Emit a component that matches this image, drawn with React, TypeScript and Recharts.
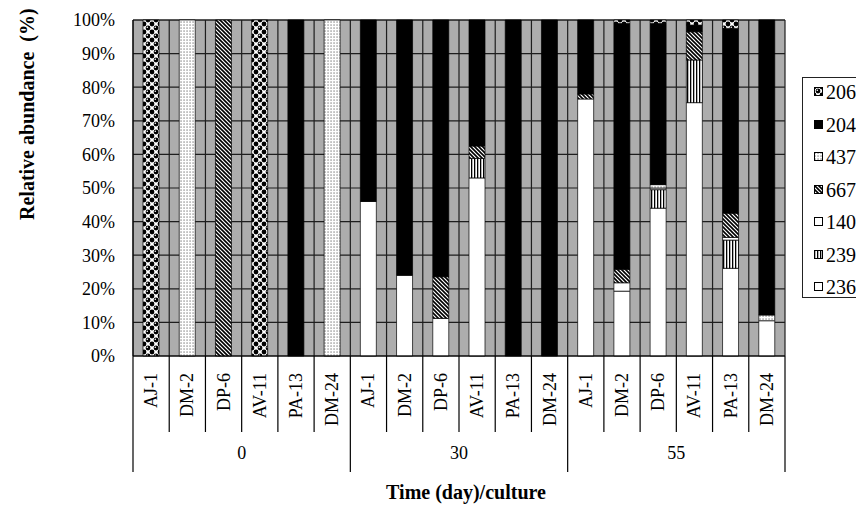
import React from 'react';
import { BarChart, Bar, XAxis, YAxis, CartesianGrid } from 'recharts';

// cultures per sampling day
const days = ['0', '30', '55'];
const cultures = ['AJ-1', 'DM-2', 'DP-6', 'AV-11', 'PA-13', 'DM-24'];

// relative abundance (%) of each band, 18 bars: day 0, day 30, day 55
const s236 = [0, 0, 0, 0, 0, 0, 46, 24, 11.2, 53, 0, 0, 76.5, 19.3, 44, 75.4, 26.1, 10.5];
const s239 = [0, 0, 0, 0, 0, 0, 0, 0, 0, 5.8, 0, 0, 0, 0, 5.5, 12.7, 8.4, 0];
const s140 = [0, 0, 0, 0, 0, 0, 0, 0, 0, 0, 0, 0, 0, 2.5, 0.5, 0, 0.8, 0];
const s667 = [0, 0, 100, 0, 0, 0, 0, 0, 12.4, 3.7, 0, 0, 1.5, 4, 0, 8.4, 7.2, 0];
const s437 = [0, 100, 0, 0, 0, 100, 0, 0, 0, 0, 0, 0, 0, 0, 1, 0, 0, 1.7];
const s204 = [0, 0, 0, 0, 100, 0, 54, 76, 76.4, 37.5, 100, 100, 22, 73.2, 48, 2, 55, 87.8];
const s206 = [100, 0, 0, 100, 0, 0, 0, 0, 0, 0, 0, 0, 0, 1, 1, 1.5, 2.5, 0];

const yTicks = [0, 10, 20, 30, 40, 50, 60, 70, 80, 90, 100];

// stacking order bottom -> top
const series = [
  { key: 's236', name: '236', fill: '#ffffff', values: s236 },
  { key: 's239', name: '239', fill: 'url(#p239)', values: s239 },
  { key: 's140', name: '140', fill: '#ffffff', values: s140 },
  { key: 's667', name: '667', fill: 'url(#p667)', values: s667 },
  { key: 's437', name: '437', fill: 'url(#p437)', values: s437 },
  { key: 's204', name: '204', fill: '#000000', values: s204 },
  { key: 's206', name: '206', fill: 'url(#p206)', values: s206 },
];

const data = days.flatMap((day, d) =>
  cultures.map((culture, c) => {
    const i = d * cultures.length + c;
    const row: any = { culture, day };
    series.forEach((s) => (row[s.key] = s.values[i]));
    return row;
  })
);

const W = 856;
const H = 507;
const PLOT_LEFT = 133;
const PLOT_RIGHT = 785;
const PLOT_TOP = 20;
const PLOT_BOTTOM = 356;
const Y_AXIS_W = 60;
const X_AXIS_H = 116;
const FONT = '"Liberation Serif", "Times New Roman", serif';

function Patterns() {
  return (
    <svg width={0} height={0} style={{ position: 'absolute' }}>
      <defs>
        <pattern id="p206" width="8" height="8" patternUnits="userSpaceOnUse">
          <rect width="8" height="8" fill="#fff" />
          <circle cx="4" cy="4" r="2.4" fill="#000" />
          <circle cx="0" cy="0" r="2.4" fill="#000" />
          <circle cx="8" cy="0" r="2.4" fill="#000" />
          <circle cx="0" cy="8" r="2.4" fill="#000" />
          <circle cx="8" cy="8" r="2.4" fill="#000" />
          <circle cx="3.3" cy="3.3" r="0.8" fill="#fff" />
        </pattern>
        <pattern id="p437" width="3" height="3" patternUnits="userSpaceOnUse">
          <rect width="3" height="3" fill="#fff" />
          <rect x="0.5" y="0.5" width="1.1" height="1.1" fill="#555" />
        </pattern>
        <pattern id="p667" width="4" height="4" patternUnits="userSpaceOnUse">
          <rect width="4" height="4" fill="#fff" />
          <path d="M0,0 L4,4 M-1,3 L1,5 M3,-1 L5,1" stroke="#000" strokeWidth="1.6" />
        </pattern>
        <pattern id="p239" width="3" height="3" patternUnits="userSpaceOnUse">
          <rect width="3" height="3" fill="#fff" />
          <rect x="0" y="0" width="1.3" height="3" fill="#000" />
        </pattern>
      </defs>
    </svg>
  );
}

const CultureTick = (props: any) => {
  const { x, y, payload, index } = props;
  const step = (PLOT_RIGHT - PLOT_LEFT) / data.length;
  const left = x - step / 2;
  const groupStart = index % cultures.length === 0;
  const last = index === data.length - 1;
  return (
    <g>
      <line x1={left} x2={left} y1={y} y2={y + (groupStart ? 116 : 76)} stroke="#000" strokeWidth={1.2} />
      {last && (
        <line x1={x + step / 2} x2={x + step / 2} y1={y} y2={y + 116} stroke="#000" strokeWidth={1.2} />
      )}
      <text
        transform={`translate(${x + 6},${y + 17}) rotate(-90)`}
        textAnchor="end"
        fontFamily={FONT}
        fontSize={18}
        fill="#000"
      >
        {payload.value}
      </text>
      {index % cultures.length === cultures.length / 2 && (
        <text x={left} y={y + 103} textAnchor="middle" fontFamily={FONT} fontSize={18} fill="#000">
          {data[index].day}
        </text>
      )}
    </g>
  );
};

const legendItems = [...series].reverse();

function Swatch({ fill }: { fill: string }) {
  return (
    <svg width={9} height={9} style={{ position: 'absolute', left: 11, top: 6 }}>
      <rect x={0.5} y={0.5} width={8} height={8} fill={fill} stroke="#000" strokeWidth={1} />
    </svg>
  );
}

export default function App() {
  const gridX = ({ offset }: any) => {
    const n = data.length;
    return Array.from({ length: n + 1 }, (_, i) => offset.left + (i * offset.width) / n);
  };
  return (
    <div
      style={{
        position: 'absolute',
        left: 0,
        top: 0,
        width: W,
        height: H,
        background: '#fff',
        overflow: 'hidden',
        fontFamily: FONT,
      }}
    >
      <Patterns />
      <BarChart
        width={W}
        height={H}
        data={data}
        barSize={16}
        margin={{
          top: PLOT_TOP,
          right: W - PLOT_RIGHT,
          left: PLOT_LEFT - Y_AXIS_W,
          bottom: H - PLOT_BOTTOM - X_AXIS_H,
        }}
      >
        <CartesianGrid
          fill="#adadad"
          fillOpacity={1}
          stroke="#1e1e1e"
          strokeWidth={1.2}
          verticalCoordinatesGenerator={gridX}
        />
        <XAxis
          dataKey="culture"
          interval={0}
          height={X_AXIS_H}
          tickLine={false}
          tickSize={0}
          tickMargin={0}
          axisLine={{ stroke: '#000' }}
          tick={<CultureTick />}
        />
        <YAxis
          width={Y_AXIS_W}
          domain={[0, 100]}
          ticks={yTicks}
          tickFormatter={(v) => `${v}%`}
          tickLine={false}
          tickSize={0}
          tickMargin={18}
          axisLine={{ stroke: '#000' }}
          tick={{ fill: '#000', fontSize: 18, fontFamily: FONT }}
        />
        {series.map((s) => (
          <Bar
            key={s.key}
            dataKey={s.key}
            name={s.name}
            stackId="a"
            fill={s.fill}
            stroke="#000"
            strokeWidth={0.7}
            isAnimationActive={false}
          />
        ))}
      </BarChart>

      <div
        style={{
          position: 'absolute',
          left: 0,
          top: 193,
          width: 54,
          textAlign: 'center',
          fontWeight: 'bold',
          fontSize: 20,
          lineHeight: '20px',
          whiteSpace: 'pre',
          transform: 'translate(0,-10px) rotate(-90deg)',
          transformOrigin: '27px 10px',
        }}
      >
        {'Relative abundance  (%)'}
      </div>
      <div
        style={{
          position: 'absolute',
          left: 366,
          width: 200,
          top: 481,
          textAlign: 'center',
          fontWeight: 'bold',
          fontSize: 20,
          lineHeight: '22px',
        }}
      >
        Time (day)/culture
      </div>

      <div
        style={{
          position: 'absolute',
          left: 802,
          top: 77,
          width: 80,
          height: 221,
          border: '1px solid #222',
          boxSizing: 'border-box',
        }}
      >
        {legendItems.map((s, i) => (
          <div
            key={s.key}
            style={{ position: 'absolute', left: 0, top: 3 + i * 32.5, height: 22, width: 80 }}
          >
            <Swatch fill={s.fill} />
            <span style={{ position: 'absolute', left: 23, top: 0, fontSize: 20, lineHeight: '22px' }}>
              {s.name}
            </span>
          </div>
        ))}
      </div>
    </div>
  );
}
